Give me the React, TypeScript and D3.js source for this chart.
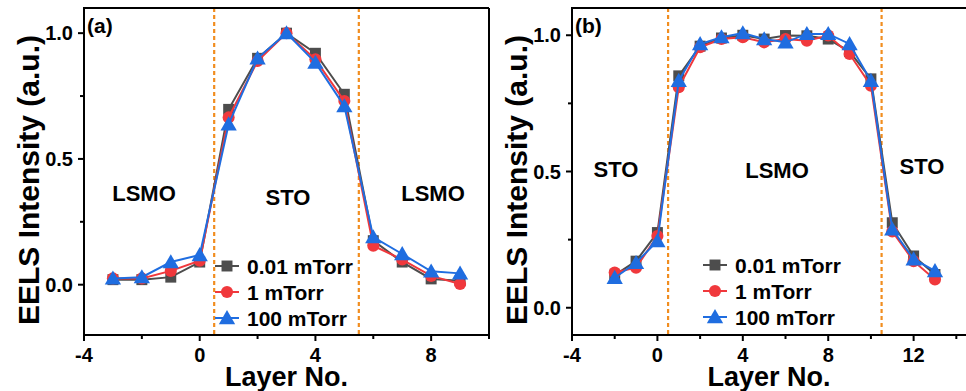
import React from "react";
import * as d3 from "d3";

// Layer indices for each panel
const layersA = [-3, -2, -1, 0, 1, 2, 3, 4, 5, 6, 7, 8, 9];
const layersB = [-2, -1, 0, 1, 2, 3, 4, 5, 6, 7, 8, 9, 10, 11, 12, 13];

// Panel (a): STO layer between LSMO
const a001 = [0.02, 0.02, 0.03, 0.09, 0.697, 0.9, 1.0, 0.92, 0.757, 0.175, 0.09, 0.023, 0.016];
const a1 = [0.025, 0.025, 0.055, 0.095, 0.665, 0.889, 1.0, 0.896, 0.73, 0.155, 0.1, 0.035, 0.003];
const a100 = [0.025, 0.03, 0.09, 0.118, 0.638, 0.9, 1.0, 0.883, 0.71, 0.189, 0.122, 0.053, 0.045];

// Panel (b): LSMO layer between STO
const b001 = [0.12, 0.171, 0.276, 0.851, 0.96, 0.99, 1.0, 0.986, 0.999, 0.998, 0.986, 0.94, 0.84, 0.312, 0.19, 0.122];
const b1 = [0.129, 0.147, 0.263, 0.809, 0.956, 0.986, 0.993, 0.974, 0.986, 0.98, 0.999, 0.931, 0.815, 0.28, 0.171, 0.104];
const b100 = [0.11, 0.165, 0.245, 0.833, 0.968, 0.993, 1.008, 0.986, 0.974, 1.005, 1.005, 0.968, 0.833, 0.288, 0.178, 0.135];

const seriesNames = ["0.01 mTorr", "1 mTorr", "100 mTorr"];
const seriesColors = ["#4d4d4d", "#f0383c", "#1f6de0"];
const seriesShapes = [d3.symbolSquare, d3.symbolCircle, d3.symbolTriangle];
const seriesSizes = [120, 115, 115];

const xTicksA = [-4, 0, 4, 8];
const xTicksB = [-4, 0, 4, 8, 12];
const yTicks = [0, 0.5, 1.0];
const yMinor = [0.25, 0.75];

const FONT = "Arial, 'Liberation Sans', Helvetica, sans-serif";

type PanelProps = {
  tag: string;
  xs: number[];
  ys: number[][];
  xDomain: [number, number];
  yDomain: [number, number];
  left: number;
  right: number;
  top: number;
  bottom: number;
  xTicks: number[];
  interfaces: number[];
  regions: { text: string; x: number; y: number }[];
  legend: { x: number; y: number };
  yLabelX: number;
  showRight: boolean;
};

function Panel(p: PanelProps) {
  const x = d3.scaleLinear().domain(p.xDomain).range([p.left, p.right]);
  const y = d3.scaleLinear().domain(p.yDomain).range([p.bottom, p.top]);
  const line = d3
    .line<number>()
    .x((_, i) => x(p.xs[i]))
    .y((d) => y(d));

  const xMinor: number[] = [];
  for (let v = p.xDomain[0] + 2; v <= p.xDomain[1]; v += 4) xMinor.push(v);

  const fmt = d3.format(".1f");

  return (
    <g>
      {/* interface markers */}
      {p.interfaces.map((v) => (
        <line
          key={"if" + v}
          x1={x(v)}
          x2={x(v)}
          y1={p.top}
          y2={p.bottom}
          stroke="#f18d1f"
          strokeWidth={2.2}
          strokeDasharray="4,3"
        />
      ))}

      {/* series */}
      {p.ys.map((vals, s) => (
        <g key={"s" + s}>
          <path d={line(vals) || ""} fill="none" stroke={seriesColors[s]} strokeWidth={2} />
          {vals.map((v, i) => (
            <path
              key={i}
              transform={`translate(${x(p.xs[i])},${y(v) + (s === 2 ? 1.5 : 0)})`}
              d={d3.symbol().type(seriesShapes[s]).size(seriesSizes[s])() || ""}
              fill={seriesColors[s]}
            />
          ))}
        </g>
      ))}

      {/* frame */}
      <line x1={p.left} x2={p.right} y1={p.top} y2={p.top} stroke="#000" strokeWidth={2} />
      {p.showRight && (
        <line x1={p.right} x2={p.right} y1={p.top} y2={p.bottom} stroke="#000" strokeWidth={2} />
      )}
      <line x1={p.left} x2={p.right + 1} y1={p.bottom} y2={p.bottom} stroke="#000" strokeWidth={2} />
      <line x1={p.left} x2={p.left} y1={p.top - 1} y2={p.bottom + 1} stroke="#000" strokeWidth={2} />

      {/* x ticks */}
      {p.xTicks.map((v) => (
        <g key={"xt" + v}>
          <line x1={x(v)} x2={x(v)} y1={p.bottom} y2={p.bottom + 6} stroke="#000" strokeWidth={2} />
          <text
            x={x(v)}
            y={p.bottom + 27}
            textAnchor="middle"
            fontFamily={FONT}
            fontWeight="bold"
            fontSize={20}
          >
            {v}
          </text>
        </g>
      ))}
      {xMinor.map((v) => (
        <line key={"xm" + v} x1={x(v)} x2={x(v)} y1={p.bottom} y2={p.bottom + 4} stroke="#000" strokeWidth={2} />
      ))}

      {/* y ticks */}
      {yTicks.map((v) => (
        <g key={"yt" + v}>
          <line x1={p.left - 6} x2={p.left} y1={y(v)} y2={y(v)} stroke="#000" strokeWidth={2} />
          <text
            x={p.left - 11}
            y={y(v) + 7}
            textAnchor="end"
            fontFamily={FONT}
            fontWeight="bold"
            fontSize={20}
          >
            {fmt(v)}
          </text>
        </g>
      ))}
      {yMinor.map((v) => (
        <line key={"ym" + v} x1={p.left - 4} x2={p.left} y1={y(v)} y2={y(v)} stroke="#000" strokeWidth={2} />
      ))}

      {/* axis titles */}
      <text
        x={(p.left + Math.min(p.right, 966)) / 2}
        y={386}
        textAnchor="middle"
        fontFamily={FONT}
        fontWeight="bold"
        fontSize={27}
      >
        Layer No.
      </text>
      <text
        transform={`translate(${p.yLabelX},${180}) rotate(-90)`}
        textAnchor="middle"
        fontFamily={FONT}
        fontWeight="bold"
        fontSize={30}
      >
        EELS Intensity (a.u.)
      </text>

      {/* panel tag and region labels */}
      <text x={p.left + 3} y={p.top + 25} fontFamily={FONT} fontWeight="bold" fontSize={21}>
        {p.tag}
      </text>
      {p.regions.map((r, i) => (
        <text
          key={"r" + i}
          x={r.x}
          y={r.y}
          textAnchor="middle"
          fontFamily={FONT}
          fontWeight="bold"
          fontSize={22}
        >
          {r.text}
        </text>
      ))}

      {/* legend */}
      {seriesNames.map((name, s) => {
        const ly = p.legend.y + s * 26;
        return (
          <g key={"lg" + s}>
            <line
              x1={p.legend.x - 12}
              x2={p.legend.x + 12}
              y1={ly}
              y2={ly}
              stroke={seriesColors[s]}
              strokeWidth={2}
            />
            <path
              transform={`translate(${p.legend.x},${ly + (s === 2 ? 1.5 : 0)})`}
              d={d3.symbol().type(seriesShapes[s]).size(seriesSizes[s])() || ""}
              fill={seriesColors[s]}
            />
            <text
              x={p.legend.x + 20}
              y={ly + 8}
              fontFamily={FONT}
              fontWeight="bold"
              fontSize={21}
            >
              {name}
            </text>
          </g>
        );
      })}
    </g>
  );
}

export default function App() {
  return (
    <svg
      width={966}
      height={391}
      style={{ position: "absolute", left: 0, top: 0, background: "#fff" }}
    >
      <rect width={966} height={391} fill="#fff" />
      <Panel
        tag="(a)"
        xs={layersA}
        ys={[a001, a1, a100]}
        xDomain={[-4, 10]}
        yDomain={[-0.2, 1.1]}
        left={84}
        right={489}
        top={8}
        bottom={335}
        xTicks={xTicksA}
        interfaces={[0.5, 5.5]}
        regions={[
          { text: "LSMO", x: 144, y: 201 },
          { text: "STO", x: 288, y: 205 },
          { text: "LSMO", x: 433, y: 201 },
        ]}
        legend={{ x: 227, y: 266 }}
        yLabelX={39}
        showRight={true}
      />
      <Panel
        tag="(b)"
        xs={layersB}
        ys={[b001, b1, b100]}
        xDomain={[-4, 14.5]}
        yDomain={[-0.1, 1.1]}
        left={572}
        right={967}
        top={8}
        bottom={335}
        xTicks={xTicksB}
        interfaces={[0.5, 10.5]}
        regions={[
          { text: "STO", x: 616, y: 177 },
          { text: "LSMO", x: 777, y: 178 },
          { text: "STO", x: 922, y: 174 },
        ]}
        legend={{ x: 715, y: 265 }}
        yLabelX={527}
        showRight={false}
      />
    </svg>
  );
}
